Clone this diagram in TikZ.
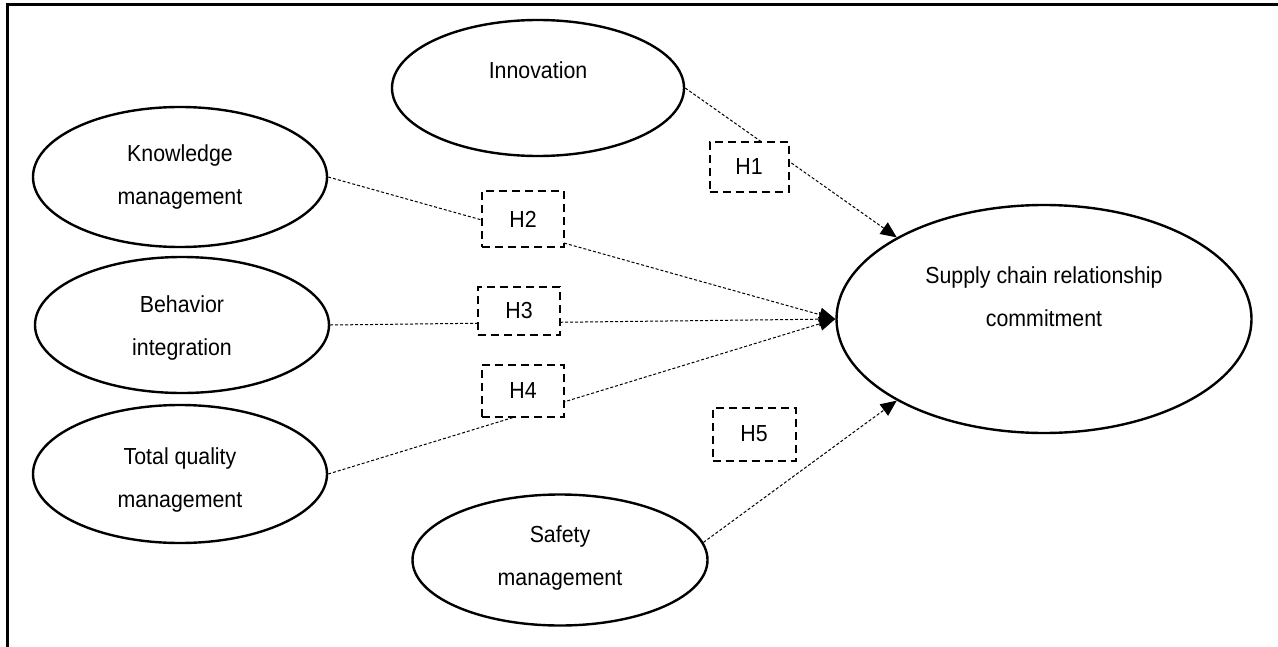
\documentclass[tikz,border=0pt]{standalone}
\usepackage{fontspec}
\setmainfont{Liberation Sans}[FakeStretch=0.92]
\usetikzlibrary{shapes.geometric,arrows.meta}
\begin{document}
\begin{tikzpicture}[x=0.5pt,y=-0.5pt,
  ell/.style={draw,ellipse,line width=1.2pt,inner sep=0pt},
  lbl/.style={align=center,font=\fontsize{11.6pt}{21.5pt}\selectfont,inner sep=0pt},
  hbox/.style={draw,fill=white,line width=1pt,dash pattern=on 4pt off 2.5pt,inner sep=0pt,font=\fontsize{11.6pt}{14pt}\selectfont},
  conn/.style={line width=0.5pt,dash pattern=on 1.5pt off 1pt,-{Triangle[length=8pt,width=7pt]}}]
\useasboundingbox (0,0) rectangle (1278,647);
\draw[line width=1.5pt] (1278,5) -- (7,5) -- (7,647);
% ellipses
\node[ell,minimum width=146pt,minimum height=68pt] (inn) at (538,88) {};
\node[ell,minimum width=147pt,minimum height=70pt] (km) at (180,177) {};
\node[ell,minimum width=147pt,minimum height=68pt] (bi) at (182,325) {};
\node[ell,minimum width=147pt,minimum height=69pt] (tqm) at (180,474) {};
\node[ell,minimum width=147.5pt,minimum height=65.5pt] (sm) at (560,560) {};
\node[ell,minimum width=207.5pt,minimum height=114pt] (sc) at (1044,319) {};
% labels
\node[lbl] (innT) at (538,70) {Innovation};
\node[lbl] (kmT) at (180,177) {Knowledge\\management};
\node[lbl] (biT) at (182,328) {Behavior\\integration};
\node[lbl] (tqmT) at (180,480) {Total quality\\management};
\node[lbl] (smT) at (560,558) {Safety\\management};
\node[lbl] (scT) at (1044,297) {Supply chain relationship\\commitment};
% connectors
\draw[conn] (inn.east) -- (sc.151);
\draw[conn] (km.east) -- (sc.west);
\draw[conn] (bi.east) -- (sc.west);
\draw[conn] (tqm.east) -- (sc.west);
\draw[conn] (sm.7) -- (sc.209);
% hypothesis boxes
\node[hbox,minimum width=39.5pt,minimum height=25pt] (h1) at (749,167) {H1};
\node[hbox,minimum width=41pt,minimum height=28pt] (h2) at (523,219) {H2};
\node[hbox,minimum width=41pt,minimum height=24pt] (h3) at (519,311) {H3};
\node[hbox,minimum width=41pt,minimum height=26pt] (h4) at (523,391) {H4};
\node[hbox,minimum width=41.5pt,minimum height=26.5pt] (h5) at (754,434) {H5};
\end{tikzpicture}
\end{document}
